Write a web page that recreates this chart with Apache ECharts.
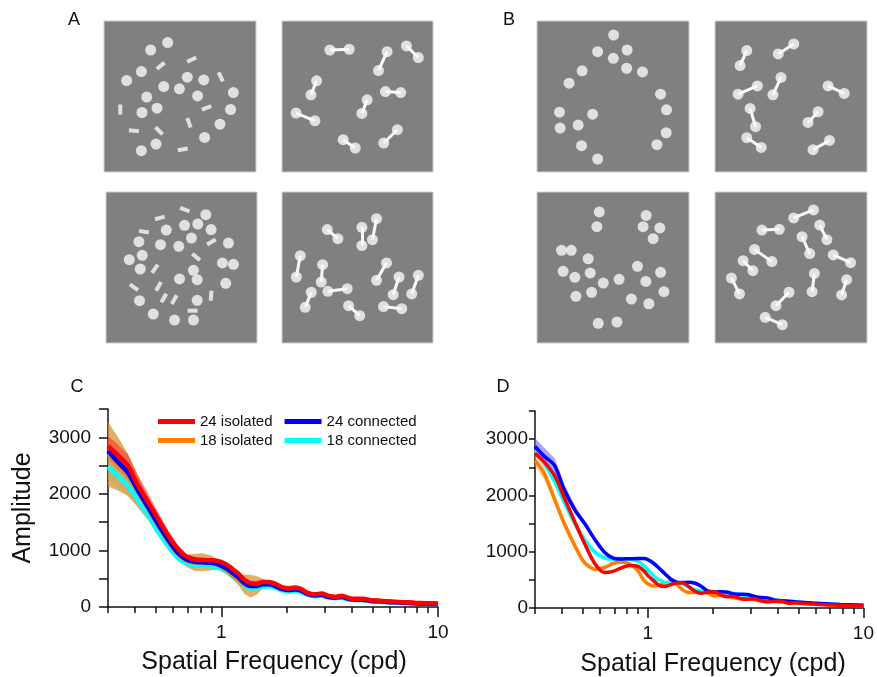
<!DOCTYPE html>
<html>
<head>
<meta charset="utf-8">
<script src="https://cdn.jsdelivr.net/npm/echarts@6/dist/echarts.min.js"></script>
<style>
  html, body { margin: 0; padding: 0; background: #fff; }
  #main { width: 877px; height: 677px; }
</style>
</head>
<body>
<div id="main"></div>
<script>
// spatial frequency samples (cpd)
var freq = [0.30,0.33,0.37,0.41,0.46,0.51,0.57,0.63,0.69,0.75, 0.82,0.90,0.96,1.00,1.06,1.12,1.20,1.28,1.36,1.45,
  1.55,1.66,1.78,1.90,2.05,2.20,2.35,2.50,2.70,2.90, 3.10,3.35,3.60,3.90,4.20,4.50,4.90,5.30,5.80,6.30, 7.00,7.80,8.80,10.0];

// panel C amplitudes
var cRed = [2840,2700,2500,2170,1850,1565,1260,1030,890,845, 830,825,815,795,750,680,590,480,420,410,
  440,440,410,350,325,345,315,250,225,240, 200,180,200,155,145,145,120,115,100,95, 85,75,68,60];
var cBlue = [2760,2580,2380,2080,1760,1470,1180,960,840,800, 790,780,760,730,680,610,520,420,370,370,
  400,400,370,320,300,310,285,230,205,215, 180,165,175,140,130,130,108,100,90,82, 74,65,58,50];
var cOrange = [2700,2550,2340,2060,1740,1450,1160,940,820,790, 790,780,750,710,650,570,480,400,370,380,
  410,415,385,330,310,325,300,240,215,228, 190,172,185,148,138,138,112,108,95,88, 80,70,62,55];
var cCyan = [2480,2330,2150,1900,1620,1340,1070,870,770,740, 730,720,700,670,620,550,460,380,330,330,
  360,365,340,295,275,285,260,215,190,200, 170,155,160,130,122,120,100,95,85,78, 70,62,55,48];
// panel C error half-widths
var cRedErr = [180,190,200,180,150,120,90,70,50,40, 40,40,40,40,40,40,40,40,35,35,
  35,35,30,30,30,30,30,30,25,25, 25,25,25,20,20,20,20,20,20,20, 20,20,20,20];
var cBlueErr = [130,140,130,100,80,60,50,40,35,30, 30,30,30,30,30,30,30,30,30,30,
  30,30,25,25,25,25,25,25,20,20, 20,20,20,20,20,20,15,15,15,15, 15,15,15,15];
var cOrangeErr = [570,480,380,280,200,150,110,90,110,150, 160,130,90,60,50,60,100,170,200,170,
  90,50,40,50,70,50,40,45,40,35, 30,30,30,25,25,25,20,20,20,20, 20,20,20,20];
var cCyanErr = [220,200,170,140,110,90,80,70,60,50, 45,45,45,45,45,45,45,45,45,40,
  40,40,35,35,35,35,30,30,30,30, 25,25,25,25,25,20,20,20,20,20, 20,20,20,20];

// panel D amplitudes
var dRed = [2750,2600,2350,1960,1520,1140,780,630,650,710, 755,740,660,580,490,410,380,415,445,450,
  380,295,260,285,285,225,200,210,165,155, 165,130,108,122,118,85,92,78,70,62, 55,48,42,36];
var dBlue = [2870,2700,2530,2100,1740,1500,1210,990,885,870, 875,880,878,860,800,720,610,510,460,452,
  458,440,380,300,285,290,280,250,245,240, 210,185,180,140,128,120,108,100,90,82, 72,64,56,48];
var dOrange = [2620,2400,1930,1500,1100,800,690,720,790,815, 790,660,490,430,390,405,440,465,420,325,
  275,280,300,260,215,230,225,180,165,175, 150,130,145,115,105,110,88,85,75,68, 60,55,48,40];
var dCyan = [2800,2580,2250,1880,1500,1200,990,890,870,880, 870,830,750,680,580,500,460,450,455,430,
  370,320,310,300,290,280,270,260,235,215, 195,175,160,145,130,118,105,96,86,78, 70,62,55,48];
var dRedErr = [50,40,35,30,25,25,20,20,20,20, 20,20,20,20,20,20,20,20,20,20,
  20,20,20,20,20,20,20,20,20,20, 20,20,20,20,20,20,20,20,20,20, 20,20,20,20];
var dBlueErr = [150,150,130,100,70,50,40,30,30,30, 25,25,25,25,25,25,25,25,25,25,
  25,25,25,25,25,25,25,25,20,20, 20,20,20,20,20,20,20,20,20,20, 20,20,20,20];
var dOrangeErr = [110,110,100,80,60,40,30,25,25,25, 20,20,20,20,20,20,20,20,20,20,
  20,20,20,20,20,20,20,20,20,20, 20,20,20,20,20,20,20,20,20,20, 20,20,20,20];
var dCyanErr = [60,70,90,100,90,80,60,50,40,30, 25,25,25,25,25,25,25,25,25,25,
  25,25,25,25,25,25,25,25,25,25, 25,25,25,25,25,25,25,25,25,25, 25,25,25,25];

// axis ticks
var yTicks = { min: 0, max: 3500, step: 500, labelStep: 1000 };
var xMajor = [1, 10];
var xMinor = [0.3,0.4,0.5,0.6,0.7,0.8,0.9,2,3,4,5,6,7,8,9];

// stimulus displays, coordinates in % of the square (y from top)
var a1Dots = [[41.9,14.3],[30.7,19.2],[24.6,33.5],[14.9,39.4],[54.8,37.2],[65.6,39.0],[39.3,43.4],[49.6,44.9],[85.1,47.4],
  [28.1,50.4],[61.6,49.6],[34.9,57.7],[25.0,60.6],[83.3,58.6],[76.3,68.3],[66.2,77.1],[34.2,81.5],[24.6,85.9]];
var a1Bars = [[57.7,25.6,25],[37.3,29.7,40],[76.8,37.0,-65],[10.7,58.6,90],[67.5,57.5,20],[19.7,72.7,-5],
  [36.2,72.7,-45],[55.9,67.4,-70],[51.8,85.0,10]];
var a2Pairs = [[31.7,19.2,44.5,18.7],[69.6,20.3,63.9,32.8],[82.4,16.5,90.3,24.2],[22.9,39.6,19.2,48.9],[68.5,46.7,78.6,47.4],
  [56.4,52.2,52.9,61.2],[9.3,61.0,21.8,66.1],[76.4,72.0,67.4,80.8],[40.5,78.6,48.5,84.1]];
var a3Dots = [[66.1,15.0],[52.0,22.1],[60.8,21.2],[69.6,24.9],[39.9,25.2],[21.8,32.9],[56.6,30.5],[36.1,34.9],[48.2,36.0],
  [81.1,33.8],[24.0,41.9],[15.4,44.8],[77.1,47.0],[84.4,47.9],[22.7,51.0],[57.9,51.9],[48.7,57.6],[60.4,58.1],
  [79.3,60.5],[22.2,72.0],[60.4,71.7],[31.3,80.8],[45.4,84.8],[57.9,84.8]];
var a3Bars = [[52.2,11.7,-20],[35.7,17.2,15],[25.1,26.3,-10],[69.8,33.1,30],[59.7,43.0,-40],[32.4,50.8,55],
  [18.5,63.1,-35],[34.8,62.5,60],[38.3,70.2,60],[45.2,71.3,60],[69.6,68.7,85],[57.3,78.6,0]];
var a4Pairs = [[30.0,24.9,37.0,30.9],[52.9,23.4,52.9,35.5],[62.6,17.7,59.9,31.6],[12.1,42.2,9.5,56.3],[26.9,48.1,26.0,59.6],
  [69.2,47.0,62.6,58.5],[77.5,56.3,73.6,68.0],[90.3,55.2,85.9,67.5],[19.4,66.4,15.4,76.4],[30.4,65.8,43.2,64.0],
  [44.1,75.3,51.5,81.9],[67.2,75.9,79.3,77.3]];
var b1Dots = [[50.4,9.3],[39.9,20.3],[59.3,19.2],[50.2,24.7],[59.0,31.3],[69.4,33.7],[29.7,33.0],[21.1,41.2],[81.3,48.5],
  [85.2,58.8],[14.8,60.4],[36.6,61.7],[15.2,70.9],[27.1,68.9],[85.0,74.0],[78.9,81.9],[29.3,82.6],[39.9,91.4]];
var b2Pairs = [[20.9,19.6,16.5,29.5],[51.8,15.2,41.6,21.8],[27.9,43.0,15.2,48.5],[43.4,37.4,38.1,48.9],[74.4,43.0,85.0,48.0],
  [23.1,57.9,26.7,70.0],[67.8,60.1,61.2,67.2],[20.9,77.3,30.4,83.7],[75.3,79.1,64.5,85.2]];
var b3Dots = [[41.0,13.2],[39.4,23.0],[71.8,15.5],[69.8,23.0],[80.8,23.8],[76.4,30.9],[16.1,38.6],[22.5,38.6],[33.7,44.2],
  [66.1,49.2],[17.2,52.5],[35.0,53.6],[81.3,53.2],[24.9,56.5],[54.0,57.8],[43.6,60.3],[71.6,59.2],[35.9,66.4],
  [25.6,69.1],[83.5,66.0],[62.1,70.9],[73.6,74.0],[40.3,87.0],[52.6,86.1]];
var b4Pairs = [[64.8,11.9,51.8,17.2],[30.9,25.2,42.3,24.7],[68.9,21.9,73.6,31.6],[57.3,29.6,62.3,40.8],[26.0,38.0,37.4,46.1],
  [77.8,41.7,89.2,46.8],[18.5,45.5,24.9,52.1],[65.4,53.9,63.9,66.0],[86.6,58.1,83.3,68.2],[10.8,57.0,16.1,67.5],
  [48.7,66.4,40.1,75.3],[33.0,83.0,44.3,87.9]];

var FONT = 'Liberation Sans, Arial, sans-serif';
var INK = '#111111';
var DOT = '#f8f8f8';

var chart = echarts.init(document.getElementById('main'));

var grids = [], xAxes = [], yAxes = [], series = [];

// stimulus squares
var squares = [
  { box: [104, 21, 152, 151], dots: a1Dots, bars: a1Bars },
  { box: [282, 21, 151, 151], pairs: a2Pairs },
  { box: [106, 192, 151, 151], dots: a3Dots, bars: a3Bars },
  { box: [282, 192, 151, 151], pairs: a4Pairs },
  { box: [537, 21, 152, 151], dots: b1Dots },
  { box: [715, 21, 152, 151], pairs: b2Pairs },
  { box: [537, 192, 152, 151], dots: b3Dots },
  { box: [715, 192, 152, 151], pairs: b4Pairs }
];

squares.forEach(function (sq, i) {
  grids.push({ left: sq.box[0], top: sq.box[1], width: sq.box[2], height: sq.box[3], show: true,
    backgroundColor: '#808080', borderColor: '#cfcfcf', borderWidth: 1 });
  xAxes.push({ type: 'value', gridIndex: i, min: 0, max: 100, show: false });
  yAxes.push({ type: 'value', gridIndex: i, min: 0, max: 100, inverse: true, show: false });
  if (sq.pairs) {
    series.push({ type: 'lines', coordinateSystem: 'cartesian2d', xAxisIndex: i, yAxisIndex: i, silent: true,
      data: sq.pairs.map(function (p) { return { coords: [[p[0], p[1]], [p[2], p[3]]] }; }),
      lineStyle: { color: DOT, width: 3, opacity: 1, curveness: 0 } });
    var ends = [];
    sq.pairs.forEach(function (p) { ends.push([p[0], p[1]]); ends.push([p[2], p[3]]); });
    series.push({ type: 'scatter', xAxisIndex: i, yAxisIndex: i, data: ends, symbolSize: 11, silent: true,
      itemStyle: { color: DOT } });
  }
  if (sq.dots) {
    series.push({ type: 'scatter', xAxisIndex: i, yAxisIndex: i, data: sq.dots, symbolSize: 11, silent: true,
      itemStyle: { color: DOT } });
  }
  if (sq.bars) {
    series.push({ type: 'scatter', xAxisIndex: i, yAxisIndex: i, symbol: 'rect', symbolSize: [10, 4], silent: true,
      data: sq.bars.map(function (b) { return { value: [b[0], b[1]], symbolRotate: b[2] }; }),
      itemStyle: { color: DOT } });
  }
});

// spectra panels
function addSpectrum(box, labelMargin, tickLen, yName) {
  var gi = grids.length;
  grids.push({ left: box[0], top: box[1], width: box[2], height: box[3] });
  var xi = xAxes.length;
  xAxes.push({ type: 'log', logBase: 10, gridIndex: gi, min: 0.3, max: 10,
    axisLine: { show: true, lineStyle: { color: INK, width: 1.5 } },
    axisTick: { show: true, customValues: xMajor, length: 10, lineStyle: { color: INK, width: 1.5 } },
    axisLabel: { show: true, customValues: xMajor, margin: 16, fontSize: 19, color: INK, fontFamily: FONT },
    splitLine: { show: false }, minorTick: { show: false }, minorSplitLine: { show: false } });
  xAxes.push({ type: 'log', logBase: 10, gridIndex: gi, min: 0.3, max: 10, position: 'bottom',
    axisLine: { show: false },
    axisTick: { show: true, customValues: xMinor, length: 6, lineStyle: { color: INK, width: 1.5 } },
    axisLabel: { show: false }, splitLine: { show: false } });
  var yi = yAxes.length;
  yAxes.push({ type: 'value', gridIndex: gi, min: yTicks.min, max: yTicks.max, interval: yTicks.step,
    name: yName, nameLocation: 'middle', nameGap: 72,
    nameTextStyle: { fontSize: 25, color: INK, fontFamily: FONT },
    axisLine: { show: true, lineStyle: { color: INK, width: 1.5 } },
    axisTick: { show: true, length: tickLen, lineStyle: { color: INK, width: 1.5 } },
    axisLabel: { margin: labelMargin, fontSize: 19, color: INK, fontFamily: FONT,
      formatter: function (v) { return v % yTicks.labelStep === 0 ? String(v) : ''; } },
    splitLine: { show: false } });
  return { xi: xi, yi: yi };
}

function band(ax, vals, errs, color, opacity) {
  var rows = freq.map(function (f, i) { return [f, vals[i] - errs[i], vals[i] + errs[i]]; });
  return { type: 'custom', xAxisIndex: ax.xi, yAxisIndex: ax.yi, silent: true, data: rows,
    encode: { x: 0, y: [1, 2] }, z: 2,
    renderItem: function (params, api) {
      if (params.dataIndex !== 0) return null;
      var up = rows.map(function (r) { return api.coord([r[0], r[2]]); });
      var lo = rows.map(function (r) { return api.coord([r[0], r[1]]); }).reverse();
      return { type: 'polygon', shape: { points: up.concat(lo) }, style: { fill: color, opacity: opacity } };
    } };
}

function line(ax, name, vals, color, width) {
  return { type: 'line', name: name, xAxisIndex: ax.xi, yAxisIndex: ax.yi, z: 3,
    data: freq.map(function (f, i) { return [f, vals[i]]; }),
    showSymbol: false, smooth: 0.3, silent: true,
    lineStyle: { color: color, width: width }, itemStyle: { color: color } };
}

var C = addSpectrum([108, 409, 330, 198], 17, 9, 'Amplitude');
var D = addSpectrum([535, 411, 329, 197], 7, 6, '');

series.push(band(C, cCyan, cCyanErr, '#5ee6ef', 0.45));
series.push(band(C, cBlue, cBlueErr, '#4a4ad8', 0.5));
series.push(band(C, cOrange, cOrangeErr, '#d8902c', 0.72));
series.push(band(C, cRed, cRedErr, '#ff2a2a', 0.55));
series.push(line(C, '18 connected', cCyan, '#00ffff', 4.5));
series.push(line(C, '18 isolated', cOrange, '#ff8000', 4.5));
series.push(line(C, '24 connected', cBlue, '#0000ff', 4.5));
series.push(line(C, '24 isolated', cRed, '#ff0000', 4.5));

series.push(band(D, dOrange, dOrangeErr, '#ffa850', 0.5));
series.push(band(D, dCyan, dCyanErr, '#70f0f0', 0.5));
series.push(band(D, dBlue, dBlueErr, '#6a6aff', 0.6));
series.push(band(D, dRed, dRedErr, '#ff5050', 0.5));
series.push(line(D, '18 isolated', dOrange, '#ff8000', 3.5));
series.push(line(D, '18 connected', dCyan, '#00ffff', 3.5));
series.push(line(D, '24 connected', dBlue, '#0000ff', 3.5));
series.push(line(D, '24 isolated', dRed, '#ff0000', 3.5));

var legendBase = { left: 153, itemWidth: 37, itemHeight: 5, itemGap: 12, icon: 'rect', selectedMode: false,
  textStyle: { fontSize: 15, color: INK, fontFamily: FONT } };

function txt(x, y, s, size) {
  return { type: 'text', x: x, y: y, silent: true,
    style: { text: s, font: size + 'px ' + FONT, fill: INK, align: 'center', verticalAlign: 'middle',
      textAlign: 'center', textVerticalAlign: 'middle' } };
}

chart.setOption({
  animation: false,
  backgroundColor: '#ffffff',
  grid: grids,
  xAxis: xAxes,
  yAxis: yAxes,
  legend: [
    Object.assign({ top: 409, data: ['24 isolated', '24 connected'] }, legendBase),
    Object.assign({ top: 428, data: ['18 isolated', '18 connected'] }, legendBase)
  ],
  graphic: [
    txt(74, 20, 'A', 18), txt(509, 20, 'B', 18), txt(77, 387, 'C', 18), txt(503, 387, 'D', 18),
    txt(274, 662, 'Spatial Frequency (cpd)', 25), txt(713, 664, 'Spatial Frequency (cpd)', 25)
  ],
  series: series
});
</script>
</body>
</html>
